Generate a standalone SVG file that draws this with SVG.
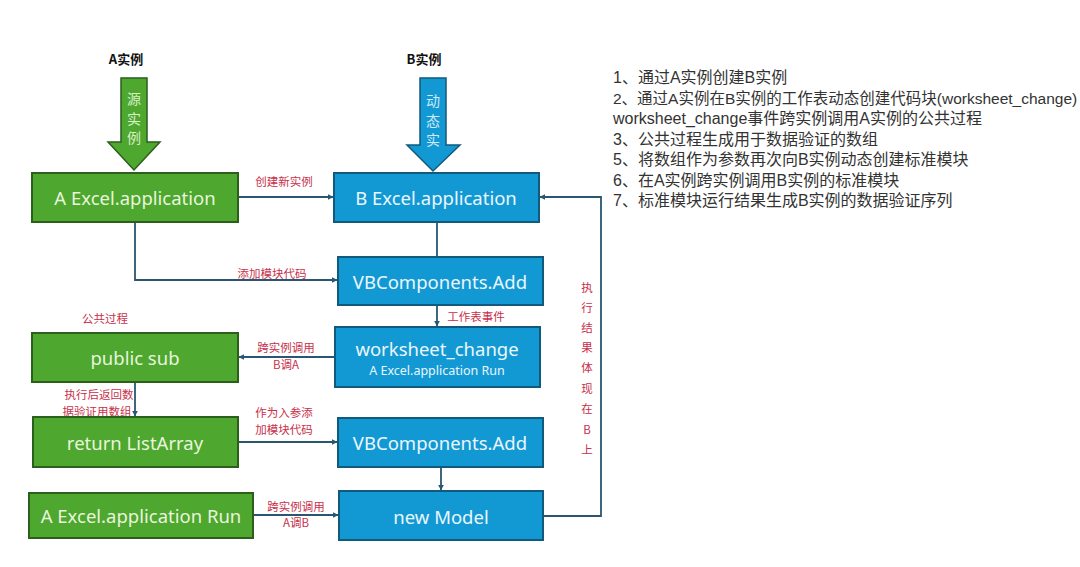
<svg xmlns="http://www.w3.org/2000/svg" width="1080" height="567" viewBox="0 0 1080 567">
<defs>
<style>
.g{fill:#4ea72e;stroke:#2c5e1c;stroke-width:2}
.b{fill:#1299d4;stroke:#125a7c;stroke-width:2}
.gt{font-family:"Noto Sans","Liberation Sans",sans-serif;font-size:18.5px;fill:#e8f5dc;text-anchor:middle;dominant-baseline:central}
.bt{font-family:"Noto Sans","Liberation Sans",sans-serif;font-size:18.5px;fill:#eaf6fc;text-anchor:middle;dominant-baseline:central}
.sub{font-size:12.5px}
.lbl{font-family:"Noto Sans CJK SC","Noto Sans",sans-serif;font-size:11.5px;fill:#c8304a;text-anchor:middle;dominant-baseline:central}
.hd{font-family:"Noto Sans CJK SC","Liberation Sans",sans-serif;font-size:13px;font-weight:bold;fill:#111;text-anchor:middle;dominant-baseline:central}
.ar{font-family:"Noto Sans CJK SC",sans-serif;font-size:14px;text-anchor:middle;dominant-baseline:central}
.note{font-family:"Liberation Sans","Noto Sans CJK SC",sans-serif;font-size:16px;fill:#333}
.c{fill:none;stroke:#2a5672;stroke-width:1.8}
</style>
<marker id="ah" viewBox="0 0 10 10" refX="9" refY="5" markerWidth="6" markerHeight="6" orient="auto" markerUnits="userSpaceOnUse">
<path d="M0,0 L10,5 L0,10 z" fill="#2a5672"/>
</marker>
</defs>
<rect width="1080" height="567" fill="#ffffff"/>

<g id="headA">
<text class="hd" x="126" y="58">A实例</text>
<polygon points="121,78 147,78 147,142 160,142 134,170 108,142 121,142" fill="#4ea72e" stroke="#2c5e1c" stroke-width="1.5"/>
<text class="ar" x="134" y="98" fill="#d9f0c8">源</text>
<text class="ar" x="134" y="118" fill="#d9f0c8">实</text>
<text class="ar" x="134" y="137" fill="#d9f0c8">例</text>
</g>
<g id="headB">
<text class="hd" x="424" y="58">B实例</text>
<polygon points="420,78 446,78 446,145 460,145 433,171 407,145 420,145" fill="#1299d4" stroke="#125a7c" stroke-width="1.5"/>
<text class="ar" x="433" y="100" fill="#cfe9f7">动</text>
<text class="ar" x="433" y="120" fill="#cfe9f7">态</text>
<text class="ar" x="433" y="139" fill="#cfe9f7">实</text>
</g>

<g id="connectors">
<path class="c" d="M238,197 H333" marker-end="url(#ah)"/>
<path class="c" d="M135,222 V280 H337" marker-end="url(#ah)"/>
<path class="c" d="M437,222 V257"/>
<path class="c" d="M437,305 V326" marker-end="url(#ah)"/>
<path class="c" d="M335,357 H239" marker-end="url(#ah)"/>
<path class="c" d="M135,382 V416" marker-end="url(#ah)"/>
<path class="c" d="M238,442 H337" marker-end="url(#ah)"/>
<path class="c" d="M441,467 V490" marker-end="url(#ah)"/>
<path class="c" d="M253,515 H338" marker-end="url(#ah)"/>
<path class="c" d="M543,516 H601 V197 H540" marker-end="url(#ah)"/>
<text class="lbl" x="284" y="181">创建新实例</text>
<text class="lbl" x="272" y="273">添加模块代码</text>
<text class="lbl" x="476" y="316">工作表事件</text>
<text class="lbl" x="286" y="347">跨实例调用</text>
<text class="lbl" x="286" y="364">B调A</text>
<text class="lbl" x="99" y="394">执行后返回数</text>
<text class="lbl" x="97" y="411">据验证用数组</text>
<text class="lbl" x="284" y="412">作为入参添</text>
<text class="lbl" x="284" y="429">加模块代码</text>
<text class="lbl" x="296" y="506">跨实例调用</text>
<text class="lbl" x="296" y="522">A调B</text>
<g class="lbl">
<text x="587" y="287">执</text><text x="587" y="307">行</text><text x="587" y="327">结</text><text x="587" y="347">果</text><text x="587" y="367">体</text><text x="587" y="388">现</text><text x="587" y="408">在</text><text x="587" y="429">B</text><text x="587" y="449">上</text>
</g>
</g>

<text class="lbl" x="105" y="318">公共过程</text>

<g id="nodeAApp"><rect class="g" x="32" y="173" width="206" height="49"/><text class="gt" x="135" y="197">A Excel.application</text></g>
<g id="nodeBApp"><rect class="b" x="334" y="173" width="205" height="49"/><text class="bt" x="436" y="197">B Excel.application</text></g>
<g id="nodeVB1"><rect class="b" x="338" y="257" width="205" height="48"/><text class="bt" x="440" y="281">VBComponents.Add</text></g>
<g id="nodeWS"><rect class="b" x="335" y="327" width="205" height="60"/><text class="bt" x="437" y="348">worksheet_change</text><text class="bt sub" x="437" y="370">A Excel.application Run</text></g>
<g id="nodePublicSub"><rect class="g" x="32" y="333" width="206" height="49"/><text class="gt" x="135" y="357">public sub</text></g>
<g id="nodeReturn"><rect class="g" x="33" y="417" width="205" height="50"/><text class="gt" x="135" y="442">return ListArray</text></g>
<g id="nodeVB2"><rect class="b" x="338" y="418" width="205" height="49"/><text class="bt" x="440" y="442">VBComponents.Add</text></g>
<g id="nodeRun"><rect class="g" x="29" y="493" width="224" height="45"/><text class="gt" x="141" y="515">A Excel.application Run</text></g>
<g id="nodeModel"><rect class="b" x="339" y="491" width="204" height="49"/><text class="bt" x="441" y="516">new Model</text></g>

<g id="notes" class="note">
<text x="613" y="83">1、通过A实例创建B实例</text>
<text x="613" y="104" font-size="15.5">2、通过A实例在B实例的工作表动态创建代码块(worksheet_change)</text>
<text x="613" y="124">worksheet_change事件跨实例调用A实例的公共过程</text>
<text x="613" y="145">3、公共过程生成用于数据验证的数组</text>
<text x="613" y="165">5、将数组作为参数再次向B实例动态创建标准模块</text>
<text x="613" y="186">6、在A实例跨实例调用B实例的标准模块</text>
<text x="613" y="206">7、标准模块运行结果生成B实例的数据验证序列</text>
</g>
</svg>
